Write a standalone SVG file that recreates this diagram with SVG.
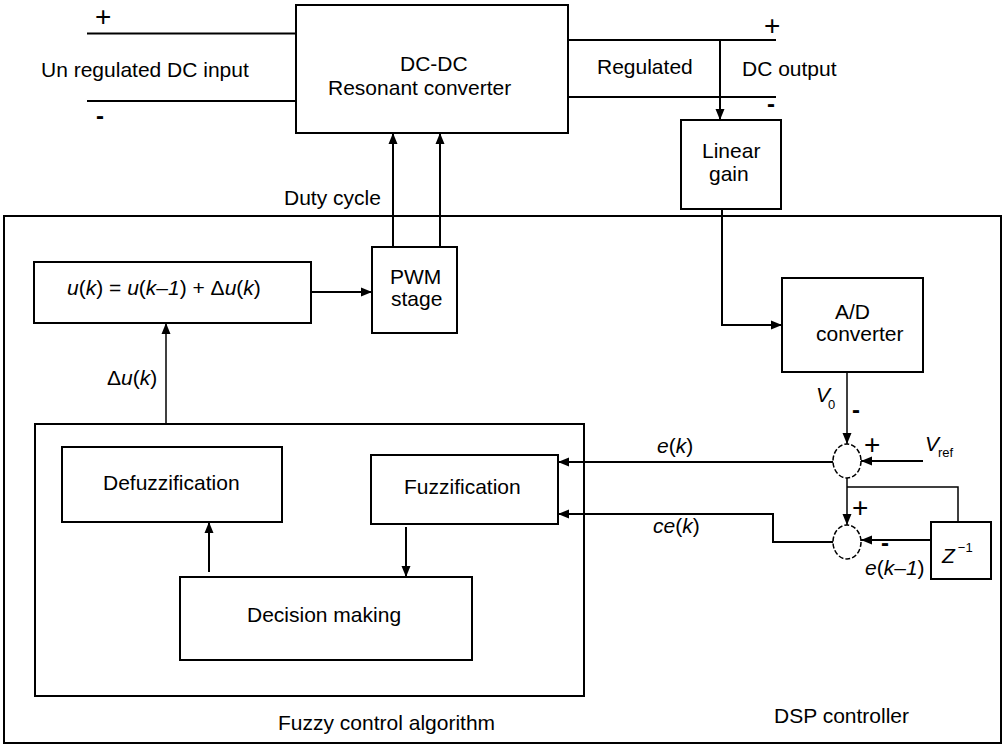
<svg xmlns="http://www.w3.org/2000/svg" width="1003" height="745" viewBox="0 0 1003 745">
<style>
.box{fill:none;stroke:#000;stroke-width:2}
.ln{fill:none;stroke:#000;stroke-width:2}
.thin{fill:none;stroke:#000;stroke-width:1.5}
.sum{fill:none;stroke:#000;stroke-width:1.5;stroke-dasharray:5 2}
text{font-family:"Liberation Sans",Arial,sans-serif;font-size:21px;fill:#000}
.it{font-style:italic}
.sm{font-size:13px}
.pl{font-size:28px}
.mi{font-size:24px;font-weight:bold}
</style>
<defs>
<marker id="arr" markerWidth="11" markerHeight="10" refX="11" refY="5" orient="auto" markerUnits="userSpaceOnUse">
<path d="M0,0.5 L11,5 L0,9.5 z" fill="#000"/>
</marker>
</defs>
<rect x="0" y="0" width="1003" height="745" fill="#fff"/>

<g id="dsp-controller">
<rect class="box" x="4" y="216" width="997" height="527"/>
<text x="774" y="723">DSP controller</text>
</g>

<g id="dcdc">
<rect class="box" x="296" y="5" width="272" height="128"/>
<text x="400" y="71">DC-DC</text>
<text x="328" y="95">Resonant converter</text>
</g>

<g id="input-labels">
<text class="pl" x="95" y="26">+</text>
<text class="mi" x="96" y="124">-</text>
<text x="41" y="77">Un regulated DC input</text>
</g>

<g id="output-labels">
<text class="pl" x="764" y="35">+</text>
<text class="mi" x="767" y="112">-</text>
<text x="597" y="74">Regulated</text>
<text x="742" y="76">DC output</text>
</g>

<g id="linear-gain">
<rect class="box" x="681" y="120" width="100" height="89"/>
<text x="702" y="158">Linear</text>
<text x="709" y="181">gain</text>
</g>

<g id="pwm">
<rect class="box" x="372" y="247" width="85" height="86"/>
<text x="390" y="284">PWM</text>
<text x="391" y="306">stage</text>
</g>

<g id="update">
<rect class="box" x="34" y="262" width="277" height="61"/>
<text x="67" y="295"><tspan class="it">u</tspan>(<tspan class="it">k</tspan>) = <tspan class="it">u</tspan>(<tspan class="it">k</tspan>–<tspan class="it">1</tspan>) + Δ<tspan class="it">u</tspan>(<tspan class="it">k</tspan>)</text>
</g>

<g id="ad">
<rect class="box" x="782" y="278" width="141" height="94"/>
<text x="835" y="319">A/D</text>
<text x="816" y="341">converter</text>
</g>

<g id="fuzzy-algorithm">
<rect class="box" x="35" y="424" width="549" height="272"/>
<text x="278" y="730">Fuzzy control algorithm</text>
</g>

<g id="defuzzification">
<rect class="box" x="62" y="447" width="220" height="75"/>
<text x="103" y="490">Defuzzification</text>
</g>

<g id="fuzzification">
<rect class="box" x="371" y="455" width="187" height="69"/>
<text x="404" y="494">Fuzzification</text>
</g>

<g id="decision">
<rect class="box" x="180" y="577" width="292" height="83"/>
<text x="247" y="622">Decision making</text>
</g>

<g id="sum1">
<ellipse class="sum" cx="847" cy="461" rx="14" ry="17"/>
</g>

<g id="sum2">
<ellipse class="sum" cx="847" cy="542" rx="14" ry="17"/>
</g>

<g id="delay">
<rect class="box" x="931" y="522" width="60" height="57"/>
<text x="942" y="563"><tspan class="it">Z</tspan><tspan class="sm" dx="3" dy="-11">−1</tspan></text>
</g>

<g id="connectors">
<line class="ln" x1="87" y1="33.5" x2="296" y2="33.5"/>
<line class="ln" x1="87" y1="101" x2="296" y2="101"/>
<line class="ln" x1="568" y1="40" x2="776" y2="40"/>
<line class="ln" x1="568" y1="97" x2="776" y2="97"/>
<line class="ln" x1="720" y1="40" x2="720" y2="120" marker-end="url(#arr)"/>
<polyline class="ln" points="722,209 722,325 782,325" marker-end="url(#arr)"/>
<line class="ln" x1="393" y1="247" x2="393" y2="133" marker-end="url(#arr)"/>
<line class="ln" x1="440" y1="247" x2="440" y2="133" marker-end="url(#arr)"/>
<line class="ln" x1="311" y1="292" x2="372" y2="292" marker-end="url(#arr)"/>
<line class="thin" x1="166" y1="424" x2="166" y2="323" marker-end="url(#arr)"/>
<line class="ln" x1="209" y1="572" x2="209" y2="522" marker-end="url(#arr)"/>
<line class="ln" x1="406" y1="527" x2="406" y2="577" marker-end="url(#arr)"/>
<line class="thin" x1="847" y1="372" x2="847" y2="444" marker-end="url(#arr)"/>
<line class="ln" x1="923" y1="461" x2="861" y2="461" marker-end="url(#arr)"/>
<line class="ln" x1="833" y1="462" x2="558" y2="462" marker-end="url(#arr)"/>
<line class="thin" x1="847" y1="478" x2="847" y2="525" marker-end="url(#arr)"/>
<polyline class="thin" points="847,487 958,487 958,522"/>
<line class="ln" x1="931" y1="540" x2="861" y2="540" marker-end="url(#arr)"/>
<polyline class="ln" points="833,542 773,542 773,514 558,514" marker-end="url(#arr)"/>
</g>

<g id="connector-labels">
<text x="284" y="205">Duty cycle</text>
<text x="107" y="385">Δ<tspan class="it">u</tspan>(<tspan class="it">k</tspan>)</text>
<text class="it" x="816" y="402">V</text>
<text class="sm" x="828" y="409">0</text>
<text class="mi" x="852" y="418">-</text>
<text class="pl" x="864" y="454">+</text>
<text class="it" x="925" y="451">V</text>
<text class="sm" x="938" y="457">ref</text>
<text x="657" y="453"><tspan class="it">e</tspan>(<tspan class="it">k</tspan>)</text>
<text x="653" y="533"><tspan class="it">ce</tspan>(<tspan class="it">k</tspan>)</text>
<text class="pl" x="852" y="517">+</text>
<text class="mi" x="881" y="551">-</text>
<text x="865" y="575"><tspan class="it">e</tspan>(<tspan class="it">k</tspan>–<tspan class="it">1</tspan>)</text>
</g>
</svg>
